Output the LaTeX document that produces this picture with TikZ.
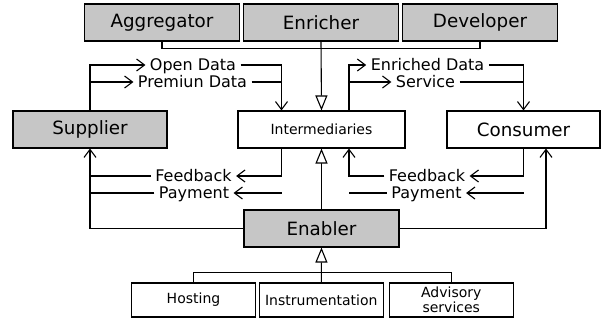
\documentclass[tikz,border=0pt]{standalone}
\usepackage{fontspec}
\setmainfont{DejaVu Sans}
\usetikzlibrary{arrows.meta}

\begin{document}
\begin{tikzpicture}[x=1pt, y=-1pt, line width=1.1pt, line join=miter,
    actor/.style={draw, fill=gray!45, minimum width=155pt, minimum height=37pt,
      inner sep=0pt, font=\fontsize{18.3}{20}\selectfont},
    party/.style={draw, fill=white, minimum height=37pt, inner sep=0pt},
    part/.style={draw, fill=white, minimum width=124pt, minimum height=34pt,
      inner sep=0pt, align=center, font=\fontsize{14}{15.5}\selectfont},
    flow/.style={inner xsep=4pt, inner ysep=0pt, text height=11.5pt, text depth=0pt,
      font=\fontsize{16}{18}\selectfont},
    barb/.style={-{Straight Barb[length=8pt, width=12pt]}},
    isa/.style={-{Triangle[open, length=15pt, width=12pt, fill=white]}}]

    \useasboundingbox (0,0) rectangle (607,324);

    % intermediary kinds
    \node [actor] (agg) at (162,22.5) {Aggregator};
    \node [actor] (enr) at (321,22.5) {Enricher};
    \node [actor] (dev) at (480,22.5) {Developer};

    % market roles
    \node [party, fill=gray!45, minimum width=154pt, font=\fontsize{18.3}{20}\selectfont]
          (sup) at (90,129.5) {Supplier};
    \node [party, minimum width=167pt, font=\fontsize{14}{16}\selectfont]
          (inter) at (321.5,129.5) {Intermediaries};
    \node [party, minimum width=153pt, font=\fontsize{18.3}{20}\selectfont]
          (cons) at (523.5,129.5) {Consumer};
    \node [actor] (enab) at (321.5,228.5) {Enabler};

    % enabler kinds
    \node [part] (host) at (193.5,300) {Hosting};
    \node [part] (instr) at (321.3,300) {Instrumentation};
    \node [part] (advis) at (451.3,300) {Advisory\\services};

    % flow labels
    \node [flow] (open) at (193,65) {Open Data};
    \node [flow] (prem) at (192.5,82) {Premiun Data};
    \node [flow] (enrd) at (427.5,65) {Enriched Data};
    \node [flow] (serv) at (425.5,82) {Service};
    \node [flow] (fbl) at (193.5,176) {Feedback};
    \node [flow] (payl) at (194,193) {Payment};
    \node [flow] (fbr) at (427,176) {Feedback};
    \node [flow] (payr) at (426.5,193) {Payment};

    % generalisation
    \draw (agg.south) -- ++(0,7) -| (dev.south);
    \draw [isa] (enr.south) -- (inter.north);
    \draw [isa] (enab.north) -- (inter.south);
    \draw (host.north) -- ++(0,-10) -| (advis.north);
    \draw [isa] (instr.north) -- (enab.south);

    % supplier -> intermediaries
    \draw [barb] (sup.north) |- (open.west);
    \draw [barb] (open.east) -| ([xshift=-40pt]inter.north);
    \draw [barb] (sup.north |- prem.west) -- (prem.west);
    \draw (prem.east) -- ([xshift=-40pt]inter.north |- prem.east);

    % intermediaries -> consumer
    \draw [barb] ([xshift=27.5pt]inter.north) |- (enrd.west);
    \draw [barb] (enrd.east) -| (cons.north);
    \draw [barb] ([xshift=27.5pt]inter.north |- serv.west) -- (serv.west);
    \draw (serv.east) -- (cons.north |- serv.east);

    % feedback and payment back to supplier
    \draw [barb] ([xshift=-40pt]inter.south) |- (fbl.east);
    \draw [barb] ([xshift=-40pt]inter.south |- payl.east) -- (payl.east);
    \draw (fbl.west) -- (sup.south |- fbl.west);
    \draw (payl.west) -- (sup.south |- payl.west);

    % feedback and payment back to intermediaries
    \draw [barb] (cons.south) |- (fbr.east);
    \draw [barb] (cons.south |- payr.east) -- (payr.east);
    \draw [barb] (fbr.west) -| ([xshift=27.5pt]inter.south);
    \draw (payr.west) -- ([xshift=27.5pt]inter.south |- payr.west);

    % enabler serves both ends
    \draw [barb] (enab.west) -| (sup.south);
    \draw [barb] (enab.east) -| ([xshift=22.5pt]cons.south);
\end{tikzpicture}
\end{document}
